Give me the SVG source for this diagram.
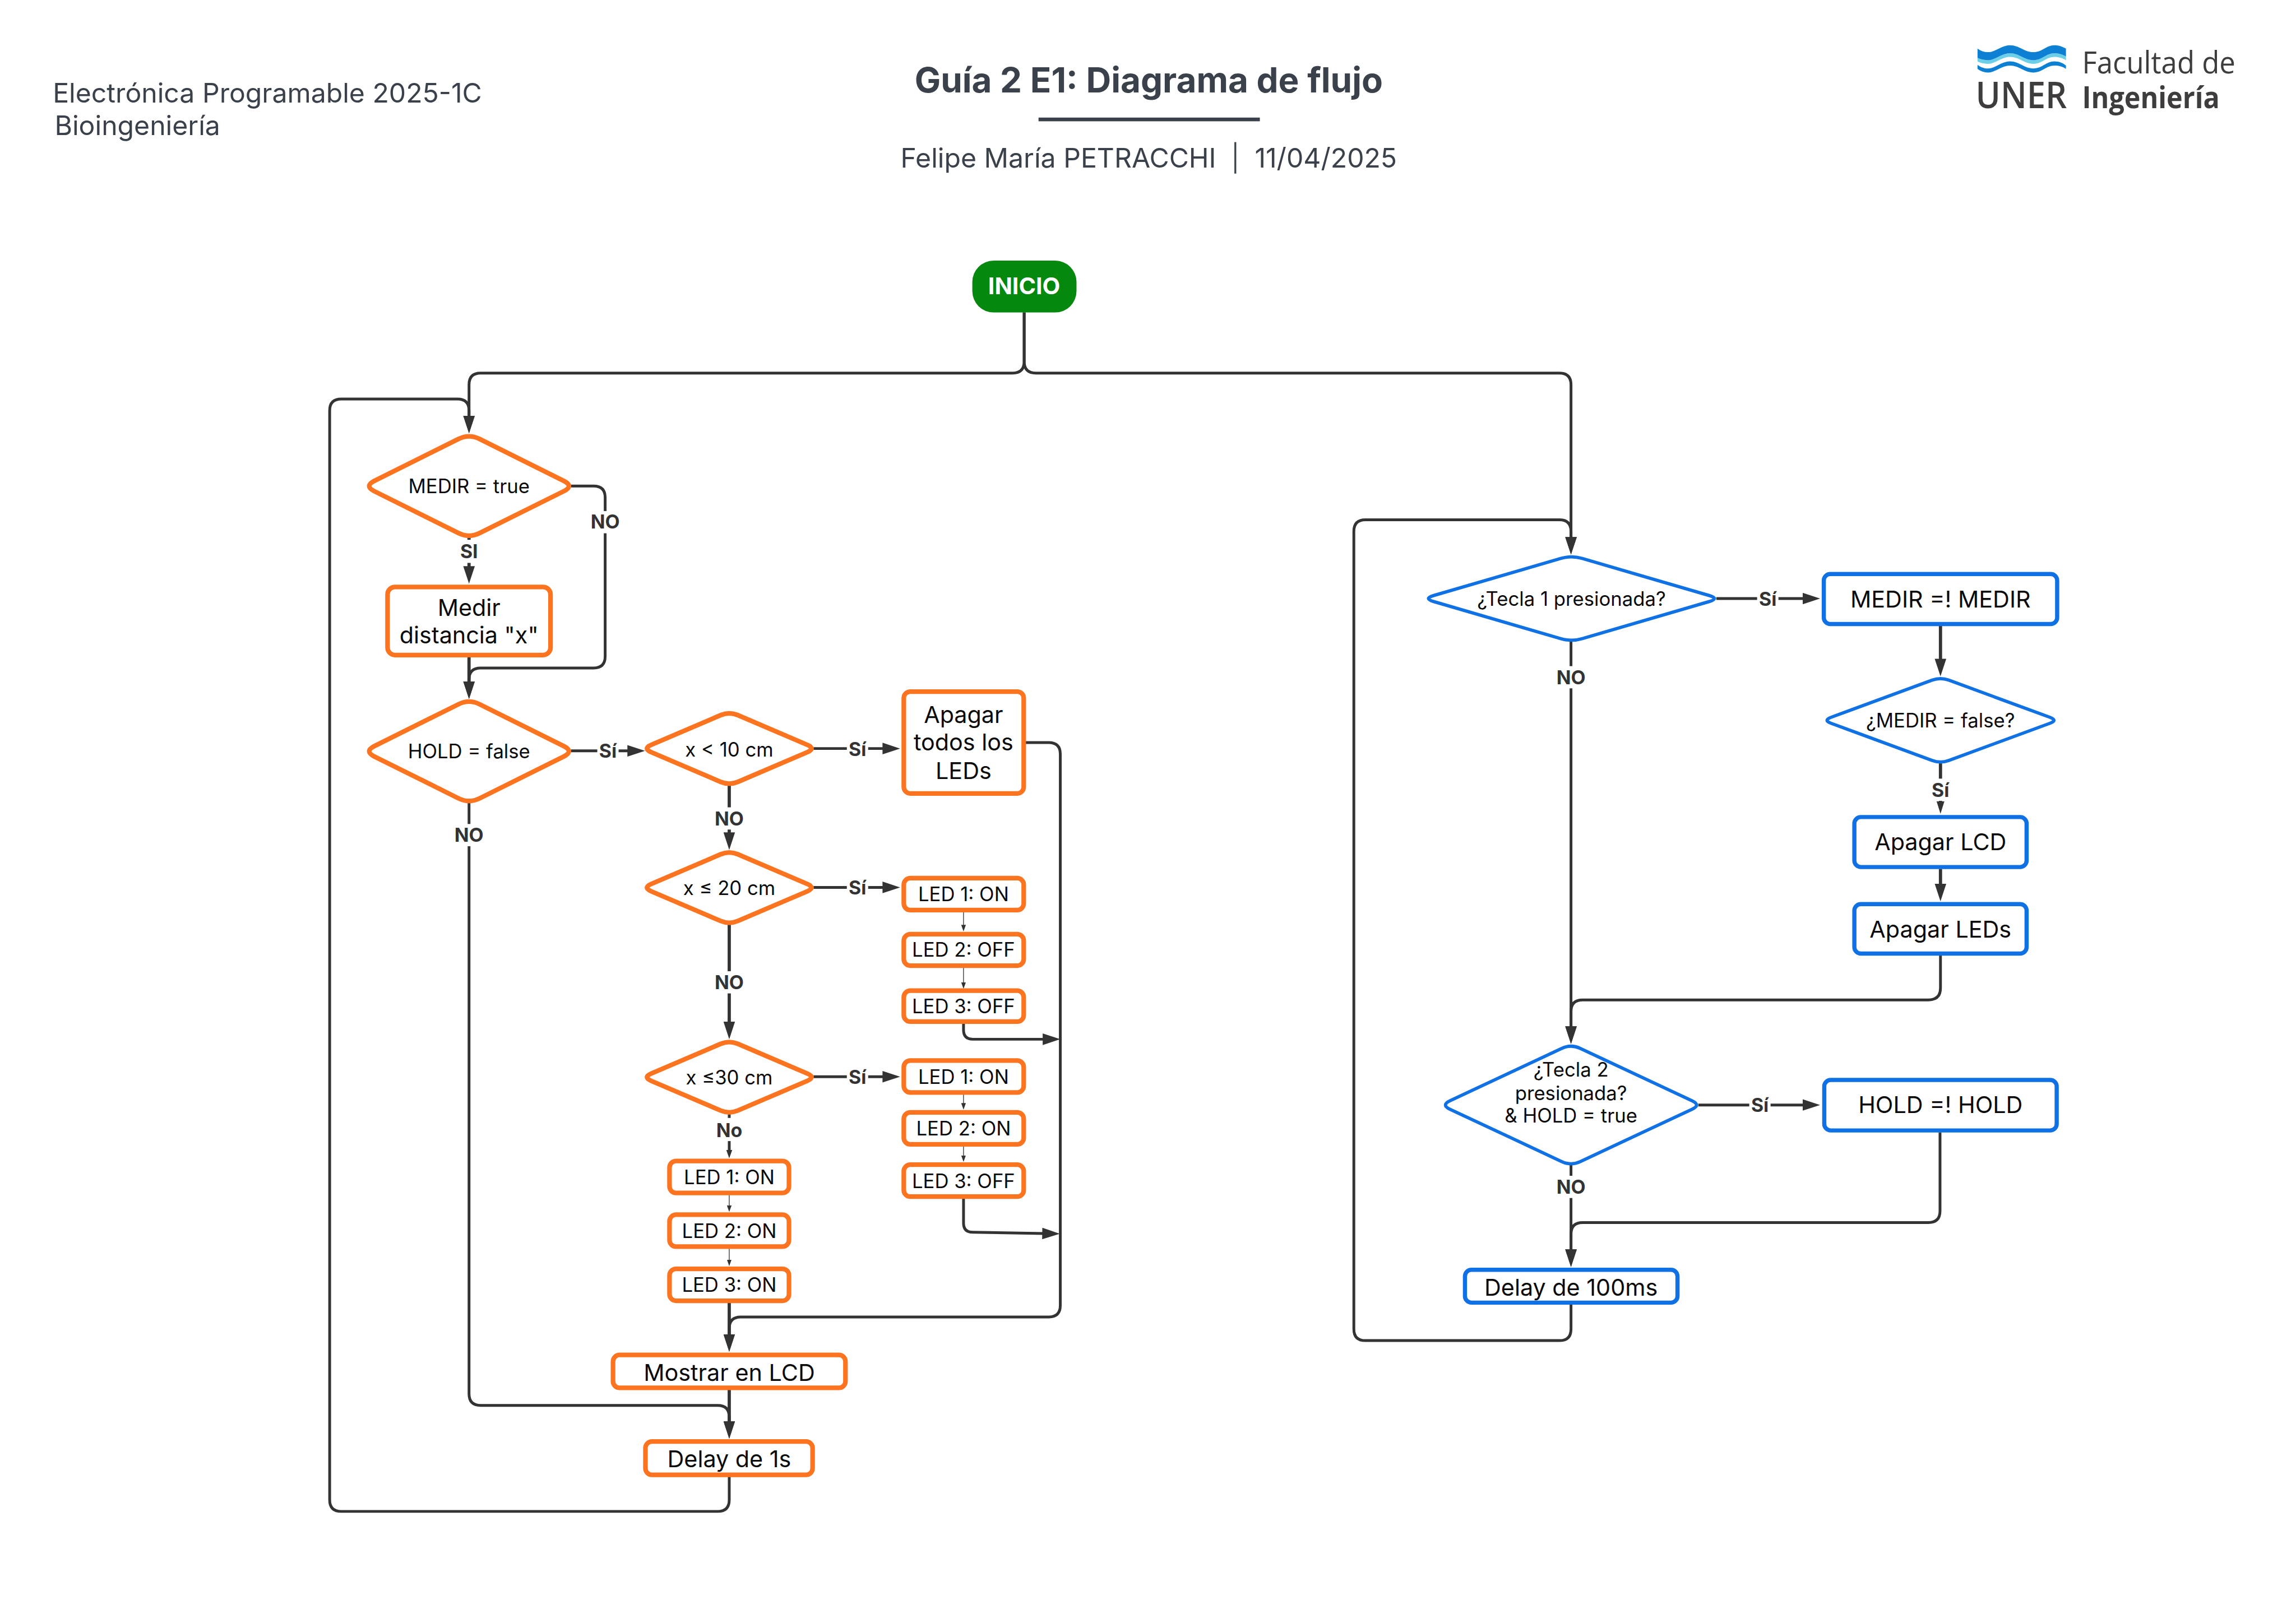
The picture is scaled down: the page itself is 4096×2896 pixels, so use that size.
<svg xmlns="http://www.w3.org/2000/svg" width="4096" height="2896" viewBox="0 0 4096 2896">
<style>
text{font-family:Inter,"Noto Sans","Liberation Sans",sans-serif}
.h{fill:#3a414a;font-size:58.3px}
.o,.b{fill:#fff}
.o{stroke:#fd7420;stroke-width:10}
.b{stroke:#1071e5;stroke-width:9}
.bd{fill:#fff;stroke:#1071e5;stroke-width:7}
.t{fill:#0a0a0a;text-anchor:middle}
.s{font-size:42px}
.l{font-size:50px}
.c path{fill:none;stroke:#333;stroke-width:6}
.c path.hv{stroke-width:7}
.c path.th{stroke-width:1.6}
.lb rect{fill:#fff}
.lb text{fill:#333;font-size:41px;font-weight:700;text-anchor:middle}
.logo{font-family:"Open Sans","DejaVu Sans",sans-serif;fill:#3e3c3d}
</style>
<defs>
<marker id="big" markerUnits="userSpaceOnUse" markerWidth="38" markerHeight="25" viewBox="0 0 38 25" refX="20" refY="12.5" orient="auto"><polygon points="0,0 38,12.5 0,25" fill="#333"/></marker>
<marker id="med" markerUnits="userSpaceOnUse" markerWidth="27" markerHeight="17" viewBox="0 0 27 17" refX="14" refY="8.5" orient="auto"><polygon points="0,0 27,8.5 0,17" fill="#333"/></marker>
<marker id="sm" markerUnits="userSpaceOnUse" markerWidth="18" markerHeight="13" viewBox="0 0 18 13" refX="9" refY="6.5" orient="auto"><polygon points="0,0 18,6.5 0,13" fill="#333"/></marker>
<marker id="ti" markerUnits="userSpaceOnUse" markerWidth="14" markerHeight="10" viewBox="0 0 14 10" refX="8" refY="5" orient="auto"><polygon points="0,0 14,5 0,10" fill="#333"/></marker>
</defs>
<rect width="4096" height="2896" fill="#fff"/>
<g transform="scale(0.826)">
<g id="header">
<text class="h" x="114" y="222">Electrónica Programable 2025-1C</text>
<text class="h" x="118" y="292">Bioingeniería</text>
<text x="2481" y="200" font-size="75" font-weight="700" fill="#3a414a" text-anchor="middle">Guía 2 E1: Diagrama de flujo</text>
<rect x="2243" y="254" width="478" height="8" fill="#3a414a"/>
<text class="h" x="1945" y="362">Felipe María PETRACCHI</text>
<rect x="2666" y="307" width="4" height="68" fill="#3a414a"/>
<text class="h" x="2710" y="362">11/04/2025</text>
</g>
<g id="logo">
<path fill="#6bcfe8" d="M4271,125 C4278,128 4285,130 4293.5,130 C4310,130 4322,115 4341.4,115 C4361,115 4372,130 4391.6,130 C4411,130 4419,115 4437,115 C4447,115 4455,118 4462,122 L4462,130 C4455,126 4447,123 4437,123 C4419,123 4411,138 4391.6,138 C4372,138 4361,123 4341.4,123 C4322,123 4310,138 4293.5,138 C4285,138 4278,136 4271,133 Z"/>
<path fill="#0d80d3" d="M4271,105 C4278,110 4285,112.7 4293.5,112.7 C4310,112.7 4322,97.7 4341.4,97.7 C4361,97.7 4372,112.7 4391.6,112.7 C4411,112.7 4419,97.7 4437,97.7 C4447,97.7 4455,101 4462,105 L4462,122 C4455,118 4447,115 4437,115 C4419,115 4411,130 4391.6,130 C4372,130 4361,115 4341.4,115 C4322,115 4310,130 4293.5,130 C4285,130 4278,128 4271,125 Z"/>
<path fill="#0d80d3" d="M4271,140 C4278,145 4285,148 4293.5,148 C4310,148 4322,132.7 4341.4,132.7 C4361,132.7 4372,148 4391.6,148 C4411,148 4419,132.7 4437,132.7 C4447,132.7 4455,136 4462,141.7 L4462,149 C4455,144 4447,141.7 4437,141.7 C4419,141.7 4411,156.7 4391.6,156.7 C4372,156.7 4361,141.7 4341.4,141.7 C4322,141.7 4310,156.7 4293.5,156.7 C4285,156.7 4278,154 4271,149 Z"/>
<text class="logo" x="4267" y="234" font-size="78" font-weight="600" textLength="197" lengthAdjust="spacingAndGlyphs">UNER</text>
<text class="logo" x="4497" y="159" font-size="66" font-weight="500" textLength="331" lengthAdjust="spacingAndGlyphs">Facultad de</text>
<text class="logo" x="4497" y="234" font-size="66" font-weight="700" textLength="297" lengthAdjust="spacingAndGlyphs">Ingeniería</text>
</g>
<g id="connectors" class="c">
<path d="M2212,675 V781 Q2212,806 2187,806 H1038 Q1013,806 1013,831 V918" marker-end="url(#big)"/>
<path d="M2212,675 V781 Q2212,806 2237,806 H3368 Q3393,806 3393,831 V1180" marker-end="url(#big)"/>
<path d="M1575,3190 V3240 Q1575,3265 1550,3265 H737 Q712,3265 712,3240 V887 Q712,862 737,862 H988 Q1013,862 1013,887 V918" marker-end="url(#big)"/>
<path class="hv" d="M1013,1161 V1243" marker-end="url(#big)"/>
<path d="M1233,1050 H1282 Q1307,1050 1307,1075 V1418 Q1307,1443 1282,1443 H1038 Q1013,1443 1013,1468 V1492" marker-end="url(#big)"/>
<path class="hv" d="M1013,1419 V1492" marker-end="url(#big)"/>
<path d="M1233,1622 H1375" marker-end="url(#big)"/>
<path d="M1013,1734 V3011 Q1013,3036 1038,3036 H1550 Q1575,3036 1575,3061 V3090" marker-end="url(#big)"/>
<path d="M1757,1617 H1926" marker-end="url(#big)"/>
<path class="hv" d="M1575,1697 V1818" marker-end="url(#big)"/>
<path d="M1757,1917 H1926" marker-end="url(#big)"/>
<path class="hv" d="M1575,1997 V2227" marker-end="url(#big)"/>
<path d="M1757,2326 H1926" marker-end="url(#big)"/>
<path d="M1575,2407 V2493" marker-end="url(#sm)"/>
<path class="th" d="M2081,1970 V2006" marker-end="url(#ti)"/>
<path class="th" d="M2081,2090 V2130" marker-end="url(#ti)"/>
<path class="th" d="M2081,2364 V2391" marker-end="url(#ti)"/>
<path class="th" d="M2081,2476 V2504" marker-end="url(#ti)"/>
<path class="th" d="M1575,2581 V2612" marker-end="url(#ti)"/>
<path class="th" d="M1575,2697 V2729" marker-end="url(#ti)"/>
<path d="M2215,1604 H2265 Q2290,1604 2290,1629 V2820 Q2290,2845 2265,2845 H1600 Q1575,2845 1575,2870 V2902" marker-end="url(#big)"/>
<path d="M2081,2211 V2225 Q2081,2245 2101,2245 H2272" marker-end="url(#big)"/>
<path d="M2081,2589 V2642 Q2081,2662 2101,2662 L2271,2665" marker-end="url(#big)"/>
<path class="hv" d="M1575,2814 V2902" marker-end="url(#big)"/>
<path class="hv" d="M1575,3002 V3090" marker-end="url(#big)"/>
<path d="M3707,1293 H3913" marker-end="url(#big)"/>
<path d="M3393,1386 V2237" marker-end="url(#big)"/>
<path class="hv" d="M4191,1352 V1443" marker-end="url(#big)"/>
<path class="hv" d="M4191,1649 V1745" marker-end="url(#med)"/>
<path class="hv" d="M4191,1877 V1929" marker-end="url(#big)"/>
<path d="M4191,2064 V2134 Q4191,2160 4165,2160 H3418 Q3393,2160 3393,2185 V2237" marker-end="url(#big)"/>
<path d="M3668,2387 H3913" marker-end="url(#big)"/>
<path d="M3393,2517 V2719" marker-end="url(#big)"/>
<path d="M4190,2446 V2616 Q4190,2641 4165,2641 H3418 Q3393,2641 3393,2666 V2719" marker-end="url(#big)"/>
<path d="M3393,2818 V2871 Q3393,2896 3368,2896 H2949 Q2924,2896 2924,2871 V1148 Q2924,1123 2949,1123 H3368 Q3393,1123 3393,1148 V1180" marker-end="url(#big)"/>
</g>
<g id="connector-labels" class="lb">
<rect x="990" y="1166" width="46" height="50"/><text x="1013" y="1206">SI</text>
<rect x="1272" y="1104" width="70" height="48"/><text x="1307" y="1142">NO</text>
<rect x="1290" y="1598" width="46" height="48"/><text x="1313" y="1637">Sí</text>
<rect x="978" y="1780" width="70" height="48"/><text x="1013" y="1819">NO</text>
<rect x="1829" y="1594" width="46" height="48"/><text x="1852" y="1633">Sí</text>
<rect x="1540" y="1744" width="70" height="48"/><text x="1575" y="1783">NO</text>
<rect x="1829" y="1893" width="46" height="48"/><text x="1852" y="1932">Sí</text>
<rect x="1540" y="2098" width="70" height="48"/><text x="1575" y="2137">NO</text>
<rect x="1829" y="2302" width="46" height="48"/><text x="1852" y="2341">Sí</text>
<rect x="1545" y="2415" width="60" height="50"/><text x="1575" y="2456">No</text>
<rect x="3795" y="1270" width="46" height="48"/><text x="3818" y="1309">Sí</text>
<rect x="3358" y="1439" width="70" height="48"/><text x="3393" y="1478">NO</text>
<rect x="4168" y="1682" width="46" height="48"/><text x="4191" y="1721">Sí</text>
<rect x="3778" y="2363" width="46" height="48"/><text x="3801" y="2402">Sí</text>
<rect x="3358" y="2540" width="70" height="48"/><text x="3393" y="2579">NO</text>
</g>
<g id="inicio"><rect x="2100" y="563" width="225" height="112" rx="46" fill="#05880e"/><text x="2212" y="636" font-size="50" font-weight="700" fill="#fff" text-anchor="middle">INICIO</text></g>
<g id="d-medir"><path class="o" d="M990.3,948.3 Q1013,937 1035.7,948.3 L1217.3,1038.7 Q1240,1050 1217.3,1061.3 L1035.7,1151.7 Q1013,1163 990.3,1151.7 L808.7,1061.3 Q786,1050 808.7,1038.7 Z"/><text class="t s" x="1013" y="1065">MEDIR = true</text></g>
<g id="medir-dist"><rect class="o" x="837" y="1268" width="352" height="147" rx="16"/><text class="t l" x="1013" y="1330">Medir</text><text class="t l" x="1013" y="1390">distancia "x"</text></g>
<g id="d-hold"><path class="o" d="M990.3,1521.3 Q1013,1510 1035.7,1521.3 L1217.3,1611.7 Q1240,1623 1217.3,1634.3 L1035.7,1724.7 Q1013,1736 990.3,1724.7 L808.7,1634.3 Q786,1623 808.7,1611.7 Z"/><text class="t s" x="1013" y="1638">HOLD = false</text></g>
<g id="d-10"><path class="o" d="M1556.3,1545 Q1575,1537 1593.7,1545 L1743.3,1609 Q1762,1617 1743.3,1625 L1593.7,1689 Q1575,1697 1556.3,1689 L1406.7,1625 Q1388,1617 1406.7,1609 Z"/><text class="t s" x="1575" y="1634">x &lt; 10 cm</text></g>
<g id="d-20"><path class="o" d="M1556.3,1845.5 Q1575,1837.5 1593.7,1845.5 L1743.3,1909.5 Q1762,1917.5 1743.3,1925.5 L1593.7,1989.5 Q1575,1997.5 1556.3,1989.5 L1406.7,1925.5 Q1388,1917.5 1406.7,1909.5 Z"/><text class="t s" x="1575" y="1934">x ≤ 20 cm</text></g>
<g id="d-30"><path class="o" d="M1556.3,2255 Q1575,2247 1593.7,2255 L1743.3,2319 Q1762,2327 1743.3,2335 L1593.7,2399 Q1575,2407 1556.3,2399 L1406.7,2335 Q1388,2327 1406.7,2319 Z"/><text class="t s" x="1575" y="2343">x ≤30 cm</text></g>
<g id="apagar-todos"><rect class="o" x="1952" y="1494" width="259" height="220" rx="14"/><text class="t l" x="2081" y="1562">Apagar</text><text class="t l" x="2081" y="1621">todos los</text><text class="t l" x="2081" y="1683">LEDs</text></g>
<g id="a1"><rect class="o" x="1952" y="1897" width="259" height="69" rx="14"/><text class="t s" x="2081" y="1947">LED 1: ON</text></g>
<g id="a2"><rect class="o" x="1952" y="2018" width="259" height="68" rx="14"/><text class="t s" x="2081" y="2067">LED 2: OFF</text></g>
<g id="a3"><rect class="o" x="1952" y="2140" width="259" height="67" rx="14"/><text class="t s" x="2081" y="2189">LED 3: OFF</text></g>
<g id="b1"><rect class="o" x="1952" y="2291" width="259" height="69" rx="14"/><text class="t s" x="2081" y="2341">LED 1: ON</text></g>
<g id="b2"><rect class="o" x="1952" y="2403" width="259" height="69" rx="14"/><text class="t s" x="2081" y="2453">LED 2: ON</text></g>
<g id="b3"><rect class="o" x="1952" y="2516" width="259" height="69" rx="14"/><text class="t s" x="2081" y="2566">LED 3: OFF</text></g>
<g id="c1"><rect class="o" x="1446" y="2508" width="258" height="69" rx="14"/><text class="t s" x="1575" y="2558">LED 1: ON</text></g>
<g id="c2"><rect class="o" x="1446" y="2624" width="258" height="69" rx="14"/><text class="t s" x="1575" y="2674">LED 2: ON</text></g>
<g id="c3"><rect class="o" x="1446" y="2741" width="258" height="69" rx="14"/><text class="t s" x="1575" y="2791">LED 3: ON</text></g>
<g id="mostrar"><rect class="o" x="1324" y="2927" width="502" height="71" rx="14"/><text class="t l" x="1575" y="2983">Mostrar en LCD</text></g>
<g id="delay1"><rect class="o" x="1394" y="3114" width="361" height="72" rx="14"/><text class="t l" x="1575" y="3169">Delay de 1s</text></g>
<g id="d-tecla1"><path class="bd" d="M3371.6,1206.2 Q3394,1199.7 3416.4,1206.2 L3691.6,1286.5 Q3714,1293 3691.6,1299.5 L3416.4,1379.8 Q3394,1386.3 3371.6,1379.8 L3096.4,1299.5 Q3074,1293 3096.4,1286.5 Z"/><text class="t s" x="3394" y="1309">¿Tecla 1 presionada?</text></g>
<g id="medir-toggle"><rect class="b" x="3939" y="1240" width="504" height="108" rx="14"/><text class="t l" x="4191" y="1312">MEDIR =! MEDIR</text></g>
<g id="d-medir2"><path class="bd" d="M4173.2,1469.2 Q4191,1462.7 4208.8,1469.2 L4427.2,1549.5 Q4445,1556 4427.2,1562.5 L4208.8,1642.8 Q4191,1649.3 4173.2,1642.8 L3954.8,1562.5 Q3937,1556 3954.8,1549.5 Z"/><text class="t s" x="4191" y="1572">¿MEDIR = false?</text></g>
<g id="apagar-lcd"><rect class="b" x="4005" y="1765" width="372" height="108" rx="14"/><text class="t l" x="4191" y="1837">Apagar LCD</text></g>
<g id="apagar-leds"><rect class="b" x="4005" y="1953" width="372" height="107" rx="14"/><text class="t l" x="4191" y="2025">Apagar LEDs</text></g>
<g id="d-tecla2"><path class="bd" d="M3373.3,2264.6 Q3393,2255.4 3412.7,2264.6 L3654.3,2377.8 Q3674,2387 3654.3,2396.2 L3412.7,2509.4 Q3393,2518.6 3373.3,2509.4 L3131.7,2396.2 Q3112,2387 3131.7,2377.8 Z"/><text class="t s" x="3393" y="2326">¿Tecla 2</text><text class="t s" x="3393" y="2376">presionada?</text><text class="t s" x="3393" y="2425">&amp; HOLD = true</text></g>
<g id="hold-toggle"><rect class="b" x="3940" y="2333" width="502" height="109" rx="14"/><text class="t l" x="4191" y="2404">HOLD =! HOLD</text></g>
<g id="delay100"><rect class="b" x="3164" y="2743" width="459" height="71" rx="14"/><text class="t l" x="3393" y="2799">Delay de 100ms</text></g>
</g>
</svg>
